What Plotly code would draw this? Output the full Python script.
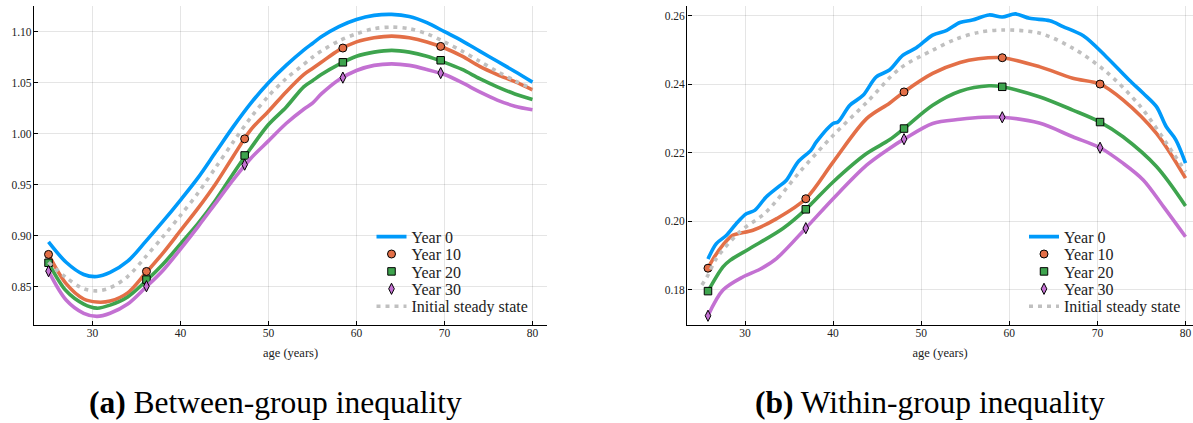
import plotly.graph_objects as go

# ---------------- Panel (a): Between-group inequality ----------------
age_a = [25, 27, 29, 30.5, 32, 34, 36, 38, 40, 42, 44, 46, 48, 50, 52, 54, 55, 56, 58,
         60, 62, 64, 66, 68, 70, 72, 74, 76, 78, 80]
a_year0 = [0.894, 0.874, 0.862, 0.860, 0.864, 0.875, 0.894, 0.914, 0.935, 0.957, 0.982, 1.007,
           1.030, 1.050, 1.067, 1.082, 1.0885, 1.095, 1.105, 1.112, 1.116, 1.117, 1.115, 1.109,
           1.100, 1.091, 1.081, 1.071, 1.061, 1.0506]
a_year10 = [0.8817, 0.853, 0.838, 0.835, 0.836, 0.844, 0.863, 0.883, 0.905, 0.927, 0.951, 0.978,
            1.004, 1.022, 1.041, 1.058, 1.064, 1.070, 1.082, 1.090, 1.094, 1.0957, 1.094, 1.090,
            1.084, 1.076, 1.066, 1.058, 1.051, 1.043]
a_year20 = [0.8735, 0.846, 0.833, 0.829, 0.832, 0.840, 0.855, 0.872, 0.892, 0.912, 0.935, 0.961,
            0.986, 1.009, 1.026, 1.046, 1.052, 1.058, 1.068, 1.076, 1.080, 1.0817, 1.080, 1.076,
            1.070, 1.063, 1.054, 1.046, 1.039, 1.0336]
a_year30 = [0.8653, 0.837, 0.824, 0.821, 0.824, 0.833, 0.849, 0.866, 0.887, 0.909, 0.932, 0.955,
            0.976, 0.993, 1.010, 1.024, 1.030, 1.039, 1.053, 1.062, 1.067, 1.0685, 1.067, 1.063,
            1.058, 1.050, 1.041, 1.033, 1.027, 1.0235]
a_steady = [0.874, 0.859, 0.848, 0.846, 0.849, 0.860, 0.879, 0.899, 0.920, 0.942, 0.967, 0.992,
            1.016, 1.037, 1.054, 1.068, 1.075, 1.081, 1.091, 1.098, 1.103, 1.1045, 1.103, 1.098,
            1.090, 1.081, 1.071, 1.061, 1.052, 1.044]
a_mark_age = [25, 36.13, 47.29, 58.45, 69.57]
a_mark_y10 = [0.8817, 0.865, 0.995, 1.084, 1.0856]
a_mark_y20 = [0.8735, 0.857, 0.9787, 1.070, 1.072]
a_mark_y30 = [0.8653, 0.8505, 0.9697, 1.055, 1.0595]

# ---------------- Panel (b): Within-group inequality ----------------
b_age_year0 = [25.8, 26.75, 27.9, 29.0, 30.15, 31.1, 32.4, 33.75, 34.7, 36.0, 37.5, 38.1, 40.0,
               40.55, 41.9, 43.4, 44.9, 46.4, 47.9, 49.45, 51.3, 52.9, 54.4, 55.8, 57.7, 59.2,
               60.7, 62.3, 64.6, 66.1, 68.4, 71.0, 73.6, 75.2, 76.7, 77.8, 78.9, 80]
b_year0 = [0.189, 0.1935, 0.1959, 0.1993, 0.2022, 0.2032, 0.2071, 0.2100, 0.2120, 0.2173, 0.2208,
           0.2232, 0.2286, 0.2290, 0.2339, 0.2368, 0.2422, 0.2442, 0.2485, 0.2507, 0.2544, 0.2558,
           0.2581, 0.2588, 0.2603, 0.2597, 0.2606, 0.2593, 0.2586, 0.2569, 0.2542, 0.2481, 0.2413,
           0.2374, 0.2335, 0.2277, 0.2238, 0.217]
b_age_year10 = [25.8, 26.4, 27.5, 28.6, 30.9, 33.6, 36.9, 40, 43.8, 46.4, 48.05, 51.3, 54.4, 56.5,
                59.2, 63.4, 67.2, 70.3, 72.9, 76.7, 80]
b_year10 = [0.1863, 0.1891, 0.1931, 0.1959, 0.1974, 0.2008, 0.2066, 0.2173, 0.2300, 0.2345, 0.2378,
            0.2432, 0.2464, 0.2475, 0.2478, 0.2452, 0.2418, 0.2401, 0.2355, 0.2257, 0.2126]
b_age_year20 = [25.8, 27.5, 28.3, 30.5, 34.3, 36.9, 40, 43.8, 46.4, 48.05, 51.3, 54.4, 57.7, 59.2,
                63.4, 67.2, 70.3, 72.9, 76.7, 80]
b_year20 = [0.1796, 0.1867, 0.1886, 0.1920, 0.1979, 0.2035, 0.2115, 0.2198, 0.2238, 0.2271, 0.2339,
            0.2380, 0.2396, 0.2393, 0.2364, 0.2325, 0.2290, 0.2247, 0.2160, 0.2045]
b_age_year30 = [25.8, 27.5, 29.8, 31.7, 33.6, 36.9, 40, 43.8, 46.4, 48.05, 51.3, 54.4, 57, 59.2,
                63.4, 67.2, 70.3, 72.9, 75.2, 77.5, 80]
b_year30 = [0.1724, 0.1799, 0.1838, 0.1860, 0.1892, 0.1980, 0.2066, 0.2164, 0.2213, 0.2240, 0.2286,
            0.2298, 0.2304, 0.2304, 0.2287, 0.2247, 0.2215, 0.2170, 0.2121, 0.2043, 0.1955]
b_age_steady = [25.1, 25.7, 26.75, 29.4, 32.4, 36.2, 40, 43.8, 47.6, 51.3, 54, 56.5, 59.2, 63.4,
                67.2, 71, 74.9, 78.6, 80]
b_steady = [0.1814, 0.1838, 0.1891, 0.1969, 0.2027, 0.2144, 0.2251, 0.2347, 0.2447, 0.2500, 0.2533,
            0.2552, 0.2559, 0.2550, 0.2506, 0.2437, 0.2335, 0.2199, 0.2145]
b_mark_age = [25.8, 36.9, 48.05, 59.2, 70.3]
b_mark_y10 = [0.1863, 0.2066, 0.2378, 0.2478, 0.2401]
b_mark_y20 = [0.1796, 0.2035, 0.2271, 0.2393, 0.2290]
b_mark_y30 = [0.1724, 0.1980, 0.2240, 0.2304, 0.2215]

names = ["Year 0", "Year 10", "Year 20", "Year 30", "Initial steady state"]
x_ticks = [30, 40, 50, 60, 70, 80]
a_yticks = [0.85, 0.90, 0.95, 1.00, 1.05, 1.10]
b_yticks = [0.18, 0.20, 0.22, 0.24, 0.26]
captions = ["<b>(a)</b> Between-group inequality", "<b>(b)</b> Within-group inequality"]

C_BLUE = "#009AFA"
C_ORANGE = "#E36F47"
C_GREEN = "#3EA44E"
C_PURPLE = "#C371D2"
C_GRAY = "#C0C0C0"
FONT = "Liberation Serif"
W, H = 1193, 423

fig = go.Figure()


def add_panel(xa, ya, legs, x0, y0, x10, y10, x20, y20, x30, y30, xs, ys, mx, m10, m20, m30):
    ax = dict(xaxis=xa, yaxis=ya)
    lw = 3.6
    sm = 0.9
    fig.add_trace(go.Scatter(x=x0, y=y0, mode="lines", name=names[0], legend=legs[0],
                             line=dict(color=C_BLUE, width=lw, shape="spline", smoothing=sm), **ax))
    fig.add_trace(go.Scatter(x=x10, y=y10, mode="lines", showlegend=False,
                             line=dict(color=C_ORANGE, width=lw, shape="spline", smoothing=sm), **ax))
    fig.add_trace(go.Scatter(x=mx, y=m10, mode="markers", name=names[1], legend=legs[1],
                             marker=dict(symbol="circle", size=8, color=C_ORANGE,
                                         line=dict(color="black", width=1)), **ax))
    fig.add_trace(go.Scatter(x=x20, y=y20, mode="lines", showlegend=False,
                             line=dict(color=C_GREEN, width=lw, shape="spline", smoothing=sm), **ax))
    fig.add_trace(go.Scatter(x=mx, y=m20, mode="markers", name=names[2], legend=legs[2],
                             marker=dict(symbol="square", size=7.5, color=C_GREEN,
                                         line=dict(color="black", width=1)), **ax))
    fig.add_trace(go.Scatter(x=x30, y=y30, mode="lines", showlegend=False,
                             line=dict(color=C_PURPLE, width=lw, shape="spline", smoothing=sm), **ax))
    fig.add_trace(go.Scatter(x=mx, y=m30, mode="markers", name=names[3], legend=legs[3],
                             marker=dict(symbol="diamond-tall", size=8, color=C_PURPLE,
                                         line=dict(color="black", width=1)), **ax))
    fig.add_trace(go.Scatter(x=xs, y=ys, mode="lines", name=names[4], legend=legs[4],
                             line=dict(color=C_GRAY, width=lw, dash="4px,5px", shape="spline",
                                       smoothing=sm), **ax))


legs_a = ["legend", "legend2", "legend3", "legend4", "legend5"]
legs_b = ["legend6", "legend7", "legend8", "legend9", "legend10"]

add_panel("x", "y", legs_a, age_a, a_year0, age_a, a_year10, age_a, a_year20, age_a, a_year30,
          age_a, a_steady, a_mark_age, a_mark_y10, a_mark_y20, a_mark_y30)
add_panel("x2", "y2", legs_b, b_age_year0, b_year0, b_age_year10, b_year10, b_age_year20, b_year20,
          b_age_year30, b_year30, b_age_steady, b_steady, b_mark_age, b_mark_y10, b_mark_y20,
          b_mark_y30)

ydom = [(H - 325) / H, (H - 5.7) / H]

axis_common = dict(showline=True, linecolor="black", linewidth=1.4, mirror=False,
                   showgrid=True, gridcolor="rgba(0,0,0,0.1)", gridwidth=1,
                   ticks="inside", ticklen=4, tickcolor="black", tickwidth=1,
                   tickfont=dict(family=FONT, size=11.5, color="#222222"),
                   zeroline=False)
xaxis_extra = dict(ticklabelstandoff=-3)
yaxis_extra = dict(ticklabelstandoff=-1)

row_y = [236.7, 254.1, 271.5, 288.9, 306.3]
legend_layout = {}
for i, name in enumerate(legs_a + legs_b):
    left_px = 371.5 if i < 5 else 1024.0
    legend_layout[name] = dict(
        x=left_px / W, xanchor="left", y=(H - row_y[i % 5]) / H, yanchor="middle",
        bgcolor="rgba(0,0,0,0)", borderwidth=0,
        font=dict(family=FONT, size=16, color="#222222"))

fig.update_layout(
    width=W, height=H,
    margin=dict(l=0, r=0, t=0, b=0),
    paper_bgcolor="white", plot_bgcolor="white",
    font=dict(family=FONT, color="#222222"),
    xaxis=dict(domain=[34 / W, 547 / W], range=[23.35, 81.65], tickvals=x_ticks,
               title=dict(text="age (years)", font=dict(family=FONT, size=12.5), standoff=10),
               anchor="y", **axis_common, **xaxis_extra),
    yaxis=dict(domain=ydom, range=[0.8125, 1.1255], tickvals=a_yticks,
               tickformat=".2f", anchor="x", **axis_common, **yaxis_extra),
    xaxis2=dict(domain=[687.3 / W, 1.0], range=[23.45, 80.85], tickvals=x_ticks,
                title=dict(text="age (years)", font=dict(family=FONT, size=12.5), standoff=10),
                anchor="y2", **axis_common, **xaxis_extra),
    yaxis2=dict(domain=ydom, range=[0.1697, 0.263], tickvals=b_yticks,
                tickformat=".2f", anchor="x2", **axis_common, **yaxis_extra),
    annotations=[
        dict(text=captions[0], x=275 / W, y=(H - 402) / H, xref="paper", yref="paper",
             showarrow=False, xanchor="center", yanchor="middle",
             font=dict(family=FONT, size=31.5, color="black")),
        dict(text=captions[1], x=930 / W, y=(H - 402) / H, xref="paper", yref="paper",
             showarrow=False, xanchor="center", yanchor="middle",
             font=dict(family=FONT, size=31.5, color="black")),
    ],
    **legend_layout,
)

fig.write_html("out.html", config={"displayModeBar": False},
               post_script="document.body.style.margin='0';")
